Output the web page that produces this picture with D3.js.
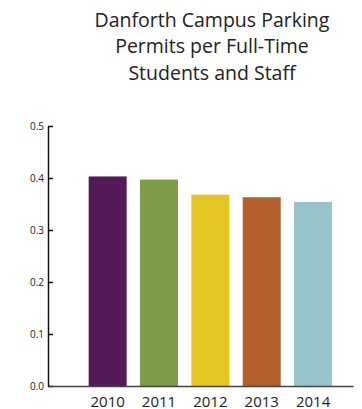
<!DOCTYPE html>
<html>
<head>
<meta charset="utf-8">
<script src="https://cdn.jsdelivr.net/npm/d3@7"></script>
<style>
  html, body { margin: 0; padding: 0; background: #fff; }
  svg { display: block; }
</style>
</head>
<body>
<svg id="chart" width="362" height="409"></svg>
<script>
// Permits per full-time student and staff member, by year
const years = ["2010", "2011", "2012", "2013", "2014"];
const permitsPerPerson = [0.403, 0.397, 0.368, 0.363, 0.354];
const barColors = ["#541a57", "#7f9c48", "#e4c722", "#b4602c", "#97c4c8"];
const yTicks = [0, 0.1, 0.2, 0.3, 0.4, 0.5];
const titleLines = ["Danforth Campus Parking", "Permits per Full-Time", "Students and Staff"];

const svg = d3.select("#chart");
const font = "'Open Sans', 'Noto Sans', sans-serif";

const x = d3.scaleBand()
  .domain(years)
  .range([48, 353])
  .paddingInner(0.26)
  .paddingOuter(0.6)
  .align(0.66);

const y = d3.scaleLinear()
  .domain([0, 0.5])
  .range([386, 126]);

// Title
svg.append("text")
  .attr("x", 212)
  .attr("y", 26.5)
  .attr("text-anchor", "middle")
  .attr("font-family", font)
  .attr("font-size", 19.5)
  .attr("fill", "#222")
  .selectAll("tspan")
  .data(titleLines)
  .join("tspan")
  .attr("x", 212)
  .attr("dy", (d, i) => i === 0 ? 0 : 26.5)
  .text(d => d);

// Bars
svg.append("g")
  .selectAll("rect")
  .data(years)
  .join("rect")
  .attr("x", d => x(d))
  .attr("width", x.bandwidth())
  .attr("y", (d, i) => y(permitsPerPerson[i]))
  .attr("height", (d, i) => y(0) - y(permitsPerPerson[i]))
  .attr("fill", (d, i) => barColors[i]);

// Y axis: ticks point inward
const yAxis = svg.append("g")
  .attr("transform", `translate(${x.range()[0]},0)`)
  .call(d3.axisLeft(y)
    .tickValues(yTicks)
    .tickFormat(d3.format(".1f"))
    .tickSizeInner(-5)
    .tickSizeOuter(0)
    .tickPadding(4));
yAxis.select(".domain").attr("stroke", "#111").attr("stroke-width", 1.5);
yAxis.selectAll(".tick line").attr("stroke", "#111").attr("stroke-width", 1.5);
yAxis.selectAll(".tick text")
  .attr("font-family", font)
  .attr("font-size", 10)
  .attr("fill", "#222");

// X axis: baseline with year labels
const xAxis = svg.append("g")
  .attr("transform", `translate(0,${y(0)})`)
  .call(d3.axisBottom(x).tickSize(0).tickPadding(10));
xAxis.select(".domain").attr("stroke", "#444").attr("stroke-width", 1.5);
xAxis.selectAll(".tick text")
  .attr("font-family", font)
  .attr("font-size", 15)
  .attr("fill", "#222");
</script>
</body>
</html>
